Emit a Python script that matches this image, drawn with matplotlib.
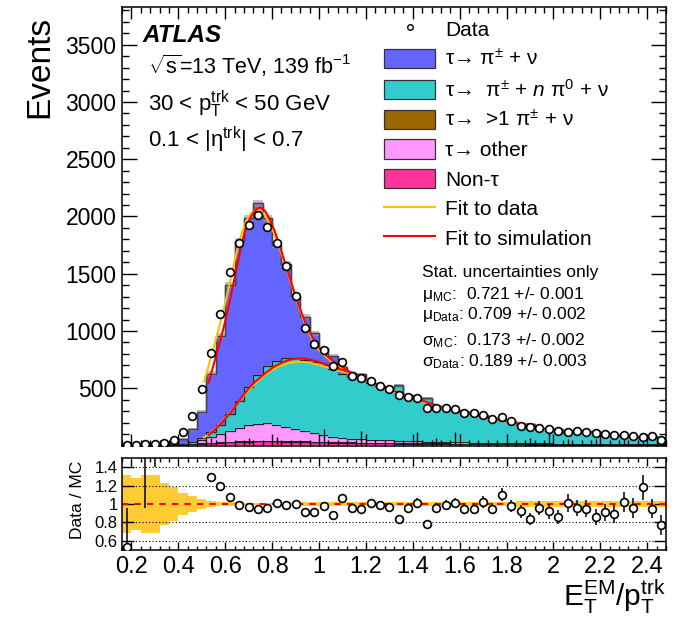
import numpy as np
import matplotlib
matplotlib.use('Agg')
import matplotlib.pyplot as plt
from matplotlib.lines import Line2D
from matplotlib.patches import Patch
from matplotlib.ticker import MultipleLocator, FuncFormatter

plt.rcParams['font.family'] = ['Liberation Sans', 'DejaVu Sans']
plt.rcParams['mathtext.fontset'] = 'custom'
plt.rcParams['mathtext.rm'] = 'Liberation Sans'
plt.rcParams['mathtext.it'] = 'Liberation Sans:italic'
plt.rcParams['mathtext.bf'] = 'Liberation Sans:bold'

# binning: 58 bins of 0.04 from 0.16 to 2.48
edges = np.round(0.16 + 0.04 * np.arange(59), 2)
centers = 0.5 * (edges[:-1] + edges[1:])

data = [8, 8, 10, 15, 25, 50, 115, 260, 490, 810,
        1150, 1515, 1765, 1925, 2010, 1905, 1770, 1570, 1305, 1025,
        890, 830, 690, 730, 610, 590, 560, 515, 490, 440,
        420, 410, 325, 330, 325, 315, 280, 280, 270, 230,
        245, 210, 168, 158, 150, 140, 122, 114, 122, 114,
        105, 96, 88, 88, 80, 72, 80, 45]

tau_1pi = [15, 5, 5, 6, 9, 17, 45, 108, 223, 511,
           776, 1127, 1397, 1476, 1505, 1292, 1011, 821, 542, 376,
           252, 147, 117, 60, 35, 20, 10, 5, 3, 2,
           2, 2, 1, 1, 1, 1, 1, 1, 1, 1,
           1, 1, 1, 1, 1, 1, 1, 1, 1, 1,
           1, 1, 1, 1, 1, 1, 1, 1]
tau_pi_npi0 = [0, 0, 0, 0, 0, 0, 0, 5, 20, 45,
               85, 150, 230, 330, 420, 500, 560, 600, 620, 626,
               620, 610, 590, 555, 540, 546, 493, 468, 458, 481,
               397, 369, 383, 312, 297, 283, 267, 270, 240, 219,
               200, 193, 162, 169, 137, 134, 126, 97, 111, 106,
               108, 91, 86, 74, 71, 51, 73, 47]
tau_multi = [0, 0, 0, 0, 0, 1, 1, 2, 3, 4,
             5, 5, 6, 6, 6, 6, 6, 6, 6, 6,
             6, 6, 5, 5, 5, 5, 5, 5, 5, 5,
             5, 4, 4, 4, 4, 4, 4, 3, 3, 3,
             3, 3, 3, 3, 3, 2, 2, 2, 2, 2,
             2, 2, 2, 2, 2, 2, 2, 2]
# stat. error of the >1 pi histogram (only a few bins show it)
tau_multi_err = [0, 0, 0, 0, 0, 0, 0, 0, 0, 40,
                 0, 0, 0, 30, 0, 0, 30, 0, 0, 0,
                 0, 110, 0, 0, 0, 100, 0, 0, 0, 0,
                 0, 100, 0, 50, 0, 100, 0, 0, 0, 0,
                 0, 0, 0, 50, 0, 100, 0, 50, 0, 0,
                 50, 0, 0, 95, 0, 50, 0, 0]
tau_other = [0, 0, 0, 0, 1, 3, 8, 15, 30, 50,
             70, 95, 120, 140, 150, 150, 140, 125, 105, 88,
             72, 58, 48, 40, 34, 30, 27, 24, 22, 20,
             18, 16, 15, 14, 13, 12, 11, 10, 10, 9,
             9, 8, 8, 7, 7, 7, 6, 6, 6, 5,
             5, 5, 5, 4, 4, 4, 4, 4]
non_tau = [0, 0, 0, 1, 2, 4, 6, 10, 14, 18,
           22, 26, 30, 33, 35, 36, 35, 34, 32, 30,
           28, 26, 24, 22, 21, 20, 19, 18, 17, 16,
           15, 15, 14, 13, 13, 12, 12, 11, 11, 10,
           10, 9, 9, 8, 8, 8, 7, 7, 7, 6,
           6, 6, 5, 5, 5, 5, 4, 4]

# relative MC stat. uncertainty (yellow band)
mc_rel_err = [0.31, 0.28, 0.31, 0.31, 0.23, 0.18, 0.12, 0.09, 0.055, 0.035,
              0.025, 0.02, 0.018, 0.015, 0.015, 0.015, 0.015, 0.015, 0.017, 0.018,
              0.02, 0.02, 0.02, 0.02, 0.02, 0.02, 0.02, 0.02, 0.02, 0.02,
              0.02, 0.022, 0.022, 0.022, 0.022, 0.022, 0.025, 0.025, 0.025, 0.025,
              0.025, 0.025, 0.028, 0.028, 0.028, 0.028, 0.03, 0.03, 0.03, 0.03,
              0.032, 0.032, 0.032, 0.035, 0.035, 0.035, 0.035, 0.035]

ratio = [0.53, np.nan, 2.0, 2.1, 2.1, 2.0, 1.92, 1.86, 1.69, 1.29,
         1.20, 1.08, 0.99, 0.97, 0.95, 0.96, 1.01, 0.99, 1.0, 0.91,
         0.91, 0.98, 0.88, 1.07, 0.96, 0.95, 1.01, 0.99, 0.97, 0.84,
         0.96, 1.01, 0.78, 0.96, 0.99, 1.01, 0.95, 0.95, 1.02, 0.95,
         1.10, 0.98, 0.92, 0.84, 0.96, 0.92, 0.86, 1.01, 0.96, 0.95,
         0.86, 0.91, 0.89, 1.02, 0.96, 1.18, 0.95, 0.77]
ratio_err = [0.43, np.nan, 1.04, 0.7, 0.45, 0.3, 0.2, 0.13, 0.08, 0.045,
             0.035, 0.03, 0.025, 0.022, 0.021, 0.022, 0.024, 0.025, 0.028, 0.03,
             0.031, 0.034, 0.034, 0.04, 0.039, 0.04, 0.043, 0.044, 0.045, 0.041,
             0.047, 0.05, 0.044, 0.053, 0.055, 0.057, 0.057, 0.057, 0.062, 0.063,
             0.07, 0.068, 0.071, 0.067, 0.078, 0.078, 0.078, 0.095, 0.087, 0.089,
             0.084, 0.093, 0.095, 0.11, 0.107, 0.14, 0.107, 0.11]

# fit curves
fit_x = [0.51, 0.53, 0.55, 0.57, 0.59, 0.61, 0.63, 0.65, 0.67, 0.69,
         0.71, 0.73, 0.75, 0.77, 0.79, 0.81, 0.83, 0.85, 0.87, 0.89,
         0.91, 0.93, 0.95, 0.97, 0.99, 1.01, 1.03, 1.05, 1.07, 1.10,
         1.13, 1.16, 1.20, 1.24, 1.28, 1.32, 1.36, 1.40, 1.45, 1.50,
         1.55, 1.60, 1.65, 1.70, 1.75, 1.80, 1.85, 1.90, 1.95]
fit_mc = [np.nan, 550, 700, 850, 1000, 1170, 1360, 1560, 1760, 1910,
          2000, 2060, 2080, 2050, 1975, 1880, 1760, 1630, 1500, 1370,
          1245, 1135, 1035, 950, 880, 830, 790, 755, 725, 685,
          645, 615, 575, 540, 505, 475, 445, 420, 385, 350,
          320, 295, 270, 250, 230, 210, 193, 178, 163]
fit_data = [560, 700, 850, 1000, 1160, 1330, 1520, 1700, 1850, 1960,
            2030, 2060, 2055, 2010, 1935, 1845, 1735, 1615, 1490, 1360,
            1235, 1120, 1020, 930, 860, 810, 775, 740, 712, 675,
            640, 610, 570, 535, 500, 470, 440, 415, 380, 346,
            316, 291, 266, 246, 226, 207, 190, 175, 160]
bkg_x = fit_x[:32]
bkg_mc = [np.nan, 90, 125, 165, 210, 255, 305, 360, 420, 470,
          520, 560, 595, 630, 660, 690, 710, 730, 745, 755,
          760, 760, 755, 745, 735, 722, 710, 695, 678, 660,
          640, 615]
bkg_data = [70, 95, 130, 170, 215, 260, 310, 360, 410, 460,
            505, 545, 580, 615, 645, 670, 690, 705, 718, 726,
            730, 730, 726, 718, 708, 697, 685, 672, 660, 645,
            630, 610]

c_1pi = '#6464ff'
c_npi0 = '#33cccc'
c_multi = '#996600'
c_other = '#ff99ff'
c_nontau = '#ff3399'
c_fitdata = '#ffc000'
c_fitmc = '#ff0000'

fig = plt.figure(figsize=(6.76, 6.17), dpi=100)
W, H = 676, 617
ax = fig.add_axes([122 / W, 1 - 446 / H, 544 / W, 439 / H])
rax = fig.add_axes([122 / W, 1 - 550 / H, 544 / W, 92 / H])

# stacked MC
layers = [(non_tau, c_nontau), (tau_multi, c_multi), (tau_other, c_other),
          (tau_pi_npi0, c_npi0), (tau_1pi, c_1pi)]
base = np.zeros(len(centers))
tops = []
for vals, col in layers:
    top = base + np.array(vals, float)
    ax.stairs(top, edges, baseline=base, fill=True, color=col, lw=0)
    ax.stairs(top, edges, baseline=None, color='#222222', lw=0.9)
    tops.append(top)
    base = top
total = base
rel = np.array(mc_rel_err)
ax.stairs(total * (1 + rel), edges, baseline=total * (1 - rel), fill=True,
          color='#999999', alpha=0.6, lw=0)
ax.stairs(total, edges, baseline=None, color='#444444', lw=1.0)

merr = np.array(tau_multi_err, float)
sel = merr > 0
ax.errorbar(centers[sel], tops[1][sel], yerr=merr[sel], fmt='none', ecolor='black',
            elinewidth=1.0, capsize=0, zorder=3)

# fits
ax.plot(fit_x, fit_data, color=c_fitdata, lw=1.5, zorder=4)
ax.plot(bkg_x, bkg_data, color=c_fitdata, lw=1.5, zorder=4)
ax.plot(fit_x, fit_mc, color=c_fitmc, lw=1.5, zorder=4)
ax.plot(bkg_x, bkg_mc, color=c_fitmc, lw=1.5, zorder=4)

ax.plot(centers, data, 'o', ms=5.6, mfc='white', mec='black', mew=1.2, zorder=5)

ax.set_xlim(0.16, 2.48)
ax.set_ylim(-5, 3830)
ax.xaxis.set_major_locator(MultipleLocator(0.2))
ax.xaxis.set_minor_locator(MultipleLocator(0.04))
ax.yaxis.set_minor_locator(MultipleLocator(100))
ax.set_yticks([500, 1000, 1500, 2000, 2500, 3000, 3500])
ax.tick_params(axis='both', which='both', direction='in', top=True, right=True)
ax.tick_params(axis='y', which='major', length=11, width=1, labelsize=16.5, pad=4)
ax.tick_params(axis='y', which='minor', length=5, width=1)
ax.tick_params(axis='x', which='major', length=8.5, width=1, labelbottom=False)
ax.tick_params(axis='x', which='minor', length=4.5, width=1)
for s in ax.spines.values():
    s.set_linewidth(1.1)

# ratio panel
rax.stairs(1 + rel, edges, baseline=1 - rel, fill=True, color='#ffcc33', lw=0)
for g in [0.6, 0.8, 1.2, 1.4]:
    rax.axhline(g, color='black', ls=(0, (1, 2)), lw=0.8)
rax.axhline(1.0, color='red', ls=(0, (3, 3)), lw=1.5)
rax.errorbar(centers, ratio, yerr=ratio_err, fmt='o', ms=5.6, mfc='white',
             mec='black', mew=1.2, ecolor='black', elinewidth=1.1, capsize=0, zorder=5)
rax.set_xlim(0.16, 2.48)
rax.set_ylim(0.5, 1.5)
rax.set_xticks([0.2, 0.4, 0.6, 0.8, 1.0, 1.2, 1.4, 1.6, 1.8, 2.0, 2.2, 2.4])
rax.xaxis.set_minor_locator(MultipleLocator(0.04))
rax.set_yticks([0.6, 0.8, 1.0, 1.2, 1.4])
fmt = FuncFormatter(lambda v, p: '%g' % round(v, 2))
rax.xaxis.set_major_formatter(fmt)
rax.yaxis.set_major_formatter(fmt)
rax.tick_params(axis='both', which='both', direction='in', top=True, right=True)
rax.tick_params(axis='x', which='major', length=6, width=1, labelsize=17, pad=4)
rax.tick_params(axis='x', which='minor', length=3, width=1)
rax.tick_params(axis='y', which='major', length=8.5, width=1, labelsize=12, pad=3)
for s in rax.spines.values():
    s.set_linewidth(1.1)

# axis titles
fig.text(40 / W, 1 - 16 / H, 'Events', rotation=90, ha='center', va='top', fontsize=24)
fig.text(77 / W, 1 - 500 / H, 'Data / MC', rotation=90, ha='center', va='center', fontsize=12.5)
fig.text(666 / W, 1 - 606 / H, r'$\mathregular{E_T^{EM}/p_T^{trk}}$', ha='right',
         va='baseline', fontsize=21.5)

# labels
fig.text(143 / W, 1 - 35 / H, 'ATLAS', fontsize=17.5, fontweight='bold', fontstyle='italic',
         va='center')
fig.text(148 / W, 1 - 66 / H, r'$\sqrt{\mathregular{s}}$=13 TeV, 139 fb$^{\mathregular{-1}}$',
         fontsize=15.5, va='center')
fig.text(148 / W, 1 - 104 / H, r'30 < $\mathregular{p_T^{trk}}$ < 50 GeV', fontsize=16,
         va='center')
fig.text(148 / W, 1 - 140 / H, r'0.1 < |$\mathregular{\eta^{trk}}$| < 0.7', fontsize=16,
         va='center')

stat_lines = [('Stat. uncertainties only', 272),
              (r'$\mathregular{\mu_{MC}}$:  0.721 +/- 0.001', 294),
              (r'$\mathregular{\mu_{Data}}$: 0.709 +/- 0.002', 315),
              (r'$\mathregular{\sigma_{MC}}$:  0.173 +/- 0.002', 341),
              (r'$\mathregular{\sigma_{Data}}$: 0.189 +/- 0.003', 362)]
for txt, yp in stat_lines:
    fig.text(422 / W, 1 - yp / H, txt, fontsize=12.5, va='center')

handles = [
    Line2D([], [], marker='o', ls='none', ms=4, mfc='white', mec='black', mew=1),
    Patch(facecolor=c_1pi, edgecolor='#333333', lw=0.9),
    Patch(facecolor=c_npi0, edgecolor='#333333', lw=0.9),
    Patch(facecolor=c_multi, edgecolor='#333333', lw=0.9),
    Patch(facecolor=c_other, edgecolor='#333333', lw=0.9),
    Patch(facecolor=c_nontau, edgecolor='#333333', lw=0.9),
    Line2D([], [], color=c_fitdata, lw=1.5),
    Line2D([], [], color=c_fitmc, lw=1.5),
]
labels = ['Data',
          r'τ→ π$^{\pm}$ + ν',
          r'τ→  π$^{\pm}$ + $n$ π$^{0}$ + ν',
          r'τ→  >1 π$^{\pm}$ + ν',
          'τ→ other',
          'Non-τ',
          'Fit to data',
          'Fit to simulation']
ax.legend(handles, labels, loc='upper left', bbox_to_anchor=(384 / W, 1 - 19 / H),
          bbox_transform=fig.transFigure, frameon=False, fontsize=15,
          handlelength=2.45, handleheight=1.05, labelspacing=0.42, handletextpad=0.5,
          borderpad=0, borderaxespad=0)

fig.savefig('out.png', dpi=100)
